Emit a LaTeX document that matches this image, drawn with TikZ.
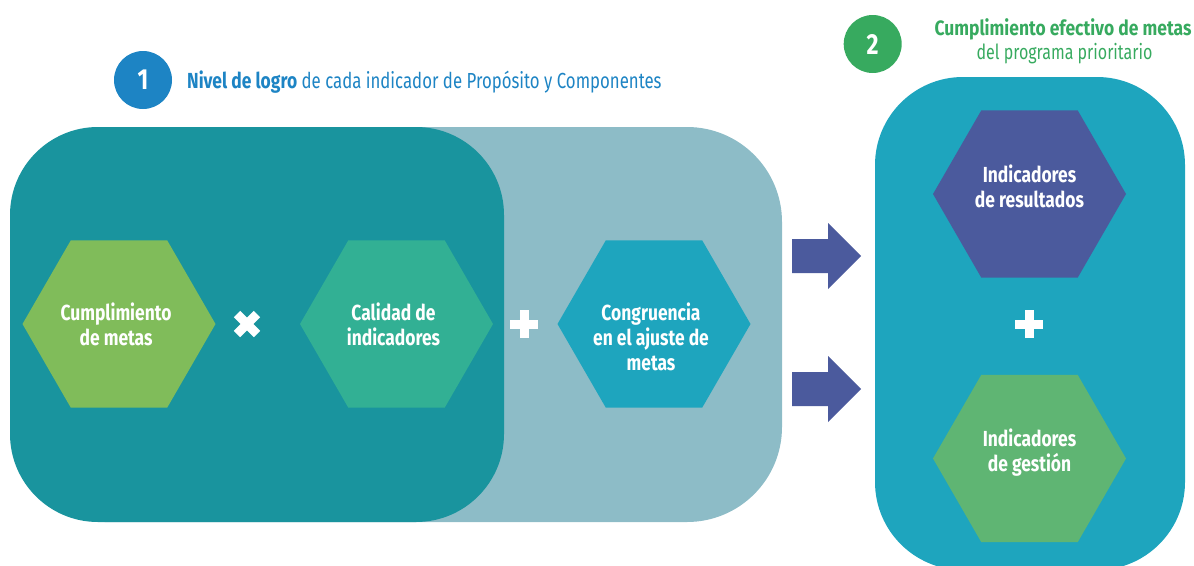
\documentclass[tikz,border=0pt]{standalone}
\usepackage{fontspec}
\setmainfont{Fira Sans}[FakeStretch=0.77, BoldFeatures={FakeStretch=0.8}]
\newfontfamily\headfont{Fira Sans}[FakeStretch=0.77, BoldFeatures={FakeStretch=0.84}]
\usetikzlibrary{shapes.geometric}

\definecolor{boxlight}{RGB}{141,188,199}
\definecolor{boxdark}{RGB}{25,148,158}
\definecolor{boxright}{RGB}{30,165,190}
\definecolor{hexlime}{RGB}{128,188,90}
\definecolor{hexjade}{RGB}{50,176,148}
\definecolor{hexcyan}{RGB}{30,165,190}
\definecolor{hexviolet}{RGB}{75,90,157}
\definecolor{hexgreen}{RGB}{95,181,115}
\definecolor{numblue}{RGB}{29,132,196}
\definecolor{numgreen}{RGB}{55,170,95}

\begin{document}
\begin{tikzpicture}[x=1pt,y=-1pt,
  hexa/.style={regular polygon, regular polygon sides=6, minimum size=193pt, inner sep=0pt},
  hexlabel/.style={anchor=north, align=center, inner sep=0pt, text=white,
    font=\fontsize{21.8}{25}\selectfont\bfseries},
  sign/.style={draw=white, line width=9pt},
  badge/.style={circle, minimum size=58pt, inner sep=0pt, text=white,
    font=\fontsize{29}{30}\selectfont\bfseries}]
  \useasboundingbox (0,0) rectangle (1194,565);
  \clip (0,0) rectangle (1194,565);

  % panels
  \fill[boxlight, rounded corners=95pt] (10,127) rectangle (782,522);
  \fill[boxdark, rounded corners=88pt] (10,127) rectangle (504,522);
  \fill[boxright, rounded corners=88pt] (875,77) rectangle (1185,570);

  % headings
  \node[badge, fill=numblue] (one) at (143,80) {1};
  \node[anchor=base west, inner sep=0pt, text=numblue, font=\fontsize{21.8}{25}\selectfont]
    (stage1) at (187,88) {\textbf{Nivel de logro} de cada indicador de Propósito y Componentes};
  \node[badge, fill=numgreen] (two) at (872.7,44) {2};
  \node[anchor=base, inner sep=0pt, text=numgreen, font=\headfont\fontsize{20.8}{25}\selectfont\bfseries]
    (stage2) at (1063,35) {Cumplimiento efectivo de metas};
  \node[anchor=base, inner sep=0pt, text=numgreen, font=\headfont\fontsize{20.8}{25}\selectfont]
    (stage2b) at (1064.5,59) {del programa prioritario};

  % hexagons
  \node[hexa, fill=hexlime] (cumpl) at (119,324) {};
  \node[hexa, fill=hexjade] (calid) at (396.5,324) {};
  \node[hexa, fill=hexcyan] (congr) at (654,324) {};
  \node[hexa, fill=hexviolet] (result) at (1029.5,194) {};
  \node[hexa, fill=hexgreen] (gestion) at (1029.5,458.5) {};

  \node[hexlabel] at ([xshift=-3pt, yshift=21pt]cumpl.center) {Cumplimiento\\de metas};
  \node[hexlabel] at ([xshift=-3pt, yshift=21pt]calid.center) {Calidad de\\indicadores};
  \node[hexlabel] at ([xshift=-3pt, yshift=21pt]congr.center) {Congruencia\\en el ajuste de\\metas};
  \node[hexlabel] at ([yshift=29pt]result.center) {Indicadores\\de resultados};
  \node[hexlabel] at ([yshift=30pt]gestion.center) {Indicadores\\de gestión};

  % operators
  \coordinate (times) at (247,324);
  \coordinate (plusA) at (524,324);
  \coordinate (plusB) at (1029,324);
  \draw[sign] ([shift={(-10,-10)}]times) -- ([shift={(10,10)}]times);
  \draw[sign] ([shift={(-10,10)}]times) -- ([shift={(10,-10)}]times);
  \foreach \p in {plusA, plusB} {
    \draw[sign] ([xshift=-14pt]\p) -- ([xshift=14pt]\p);
    \draw[sign] ([yshift=-14pt]\p) -- ([yshift=14pt]\p);
  }

  % block arrows
  \foreach \y/\name in {256/arrA, 389/arrB} {
    \coordinate (\name) at (792,\y);
    \fill[hexviolet] (\name) ++(0,-17) -- ++(36,0) -- ++(0,-16) -- ++(33,33)
      -- ++(-33,33) -- ++(0,-16) -- ++(-36,0) -- cycle;
  }
\end{tikzpicture}
\end{document}
